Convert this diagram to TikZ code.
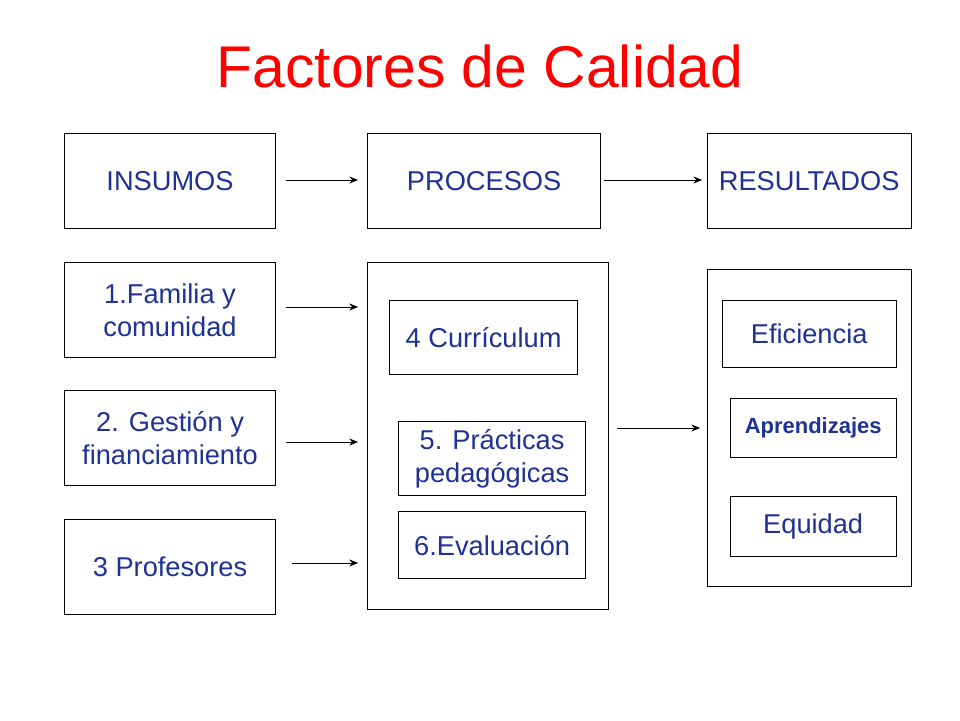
\documentclass[tikz,border=0pt]{standalone}
\usepackage{fontspec}
\setmainfont{Liberation Sans}
\usetikzlibrary{positioning,arrows.meta}
\definecolor{txtblue}{RGB}{30,50,150}
\tikzset{
  box/.style={draw, thin, fill=white, text=txtblue, align=center, font=\fontsize{15.5}{18.5}\selectfont, inner sep=0pt},
  link/.style={-{Stealth[length=5pt,width=4pt]}, thin}
}
\newcommand{\pbox}[5]{\node[box, minimum width=#4*0.02cm-0.4pt, minimum height=#5*0.02cm-0.4pt] (#1) at (#2*0.02, -#3*0.02)}
\begin{document}
\begin{tikzpicture}
\useasboundingbox (0,0) rectangle (19.2,-14.4);
\node[text=red, font=\fontsize{33.5}{40}\selectfont] (title) at (9.6,-1.32) {Factores de Calidad};
% headers
\pbox{ins}{170}{181}{212}{96} {INSUMOS};
\pbox{pro}{484}{181}{234}{96} {PROCESOS};
\pbox{res}{809}{181}{204}{96} {RESULTADOS};
% inputs
\pbox{fam}{170}{310}{212}{96} {1.Familia y\\comunidad};
\pbox{ges}{170}{438}{212}{96} {2. Gestión y\\financiamiento};
\pbox{prof}{170}{567}{212}{96} {3 Profesores};
% process frame
\pbox{pframe}{488}{436}{242}{348} {};
\pbox{cur}{483.5}{337.5}{189}{75} {4 Currículum};
\pbox{pra}{492}{458.5}{188}{75} {5. Prácticas\\pedagógicas};
\pbox{eva}{492}{545}{188}{68} {6.Evaluación};
% result frame
\pbox{rframe}{809}{428}{204}{318} {};
\pbox{efi}{809}{334}{174}{68} {Eficiencia};
\node[box, minimum width=166*0.02cm-0.4pt, minimum height=60*0.02cm-0.4pt, font=\bfseries\fontsize{12.5}{15}\selectfont] (apr) at (813*0.02,-428*0.02) {Aprendizajes};
\pbox{equ}{813}{526.5}{166}{61} {Equidad};
% arrows
\draw[link] ([xshift=10*0.02cm]ins.east |- 0,-3.6) -- ([xshift=-9*0.02cm]pro.west |- 0,-3.6);
\draw[link] ([xshift=3*0.02cm]pro.east |- 0,-3.6) -- ([xshift=-5*0.02cm]res.west |- 0,-3.6);
\draw[link] ([xshift=10*0.02cm]fam.east |- 0,-6.14) -- ([xshift=-9*0.02cm]pframe.west |- 0,-6.14);
\draw[link] ([xshift=10*0.02cm]ges.east |- 0,-8.84) -- ([xshift=-9*0.02cm]pframe.west |- 0,-8.84);
\draw[link] ([xshift=16*0.02cm]prof.east |- 0,-11.26) -- ([xshift=-9*0.02cm]pframe.west |- 0,-11.26);
\draw[link] ([xshift=8*0.02cm]pframe.east |- 0,-8.56) -- ([xshift=-7*0.02cm]rframe.west |- 0,-8.56);
\end{tikzpicture}
\end{document}
